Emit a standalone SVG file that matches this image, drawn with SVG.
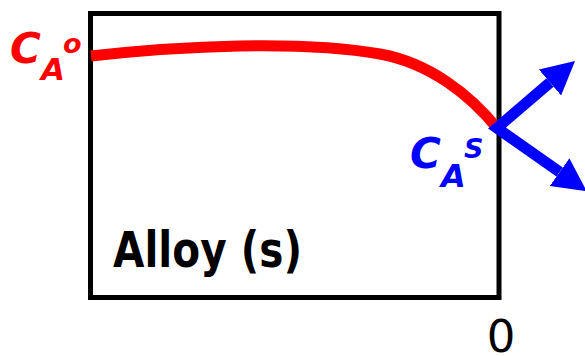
<svg xmlns="http://www.w3.org/2000/svg" width="585" height="356" viewBox="0 0 585 356">
  <style>
    .box { fill: none; stroke: #000; stroke-width: 5; }
    .profile { fill: none; stroke: #ff0000; stroke-width: 11; stroke-linecap: butt; }
    .flux { fill: none; stroke: #0000ff; stroke-width: 11; stroke-linejoin: miter; stroke-miterlimit: 10; }
    .sym { font-family: "DejaVu Sans", "Liberation Sans", sans-serif; font-weight: bold; font-style: italic; }
    .label { font-family: "DejaVu Sans", "Liberation Sans", sans-serif; font-weight: bold; fill: #000; }
    .axis { font-family: "DejaVu Sans", "Liberation Sans", sans-serif; fill: #000; }
    .red { fill: #ff0000; }
    .blue { fill: #0000ff; }
  </style>
  <defs>
    <marker id="head" markerUnits="userSpaceOnUse" markerWidth="34" markerHeight="36" viewBox="0 0 34 36" refX="0" refY="18" orient="auto-start-reverse">
      <path d="M0,1 L33,18 L0,35 Z" fill="#0000ff"/>
    </marker>
  </defs>

  <!-- alloy block -->
  <g id="alloy">
    <rect class="box" x="90.5" y="13.5" width="408.5" height="284"/>
    <text class="label" x="113" y="267" font-size="50" textLength="189" lengthAdjust="spacingAndGlyphs">Alloy (s)</text>
  </g>

  <!-- concentration profile -->
  <g id="profile">
    <path class="profile" d="M91,56 C180,46 300,40 380,54 C430,63 470,95 497,128"/>
  </g>

  <!-- bulk concentration label -->
  <g id="bulk-label">
    <text class="sym red" x="10" y="63" font-size="42">C</text>
    <text class="sym red" x="41" y="80" font-size="31">A</text>
    <text class="sym red" x="63" y="53" font-size="27">o</text>
  </g>

  <!-- surface concentration label -->
  <g id="surface-label">
    <text class="sym blue" x="410" y="168" font-size="42">C</text>
    <text class="sym blue" x="441" y="187" font-size="32">A</text>
    <text class="sym blue" x="464" y="158" font-size="27">S</text>
  </g>

  <!-- surface fluxes -->
  <g id="connectors">
    <path class="flux" d="M550,82.5 L497,128 L559.6,172.1" marker-start="url(#head)" marker-end="url(#head)"/>
  </g>

  <!-- surface position -->
  <g id="origin">
    <text class="axis" x="501" y="352" font-size="45" text-anchor="middle">0</text>
  </g>
</svg>
